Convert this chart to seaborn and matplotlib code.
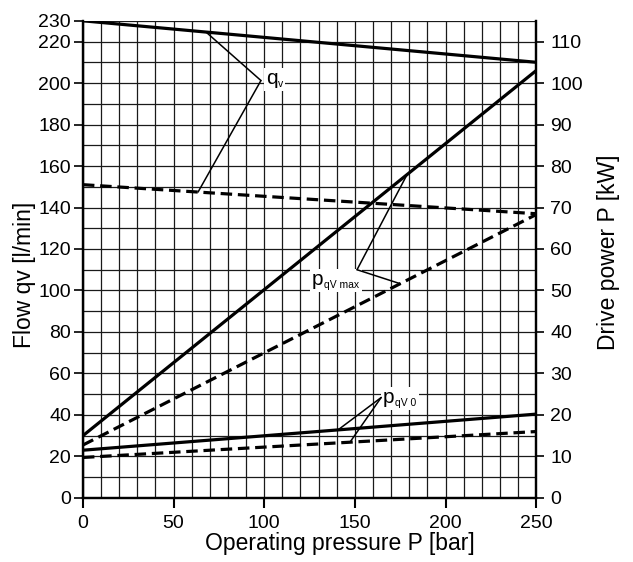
import numpy as np
import pandas as pd
import matplotlib
matplotlib.use("Agg")
import matplotlib.pyplot as plt
import matplotlib.patches as mpatches
import matplotlib.transforms as mtransforms
import seaborn as sns

# ---- data ----
pressure = [0, 250]                      # bar
flow_full = [230, 210]                   # l/min, solid q_V
flow_partial = [151, 137]                # l/min, dashed q_V
power_max_full = [15.0, 103.0]           # kW, solid p_qV max
power_max_partial = [12.75, 68.3]        # kW, dashed p_qV max
power_zero_full = [11.5, 20.2]           # kW, solid p_qV 0
power_zero_partial = [9.75, 16.0]        # kW, dashed p_qV 0

pressure_ticks = [0, 50, 100, 150, 200, 250]
flow_ticks = [0, 20, 40, 60, 80, 100, 120, 140, 160, 180, 200, 220, 230]
power_ticks = [0, 10, 20, 30, 40, 50, 60, 70, 80, 90, 100, 110]

sns.set_theme(style="white")
plt.rcParams["font.family"] = ["Liberation Sans", "DejaVu Sans"]
plt.rcParams["text.color"] = "black"
plt.rcParams["axes.labelcolor"] = "black"

fig = plt.figure(figsize=(6.33, 5.62), dpi=100)
ax = fig.add_axes([0.131, 0.114, 0.716, 0.849])
ax2 = ax.twinx()

LW = 2.3
DASH = (3.6, 1.8)
TICK_FS = 14
LABEL_FS = 16.5
MAIN_FS = 15
SUB_FS = 7.5

def draw(axis, y, dashed):
    df = pd.DataFrame({"x": pressure, "y": y, "k": ["d" if dashed else "s"] * len(y)})
    sns.lineplot(data=df, x="x", y="y", style="k",
                 dashes={"s": "", "d": DASH}, color="black", lw=LW,
                 legend=False, ax=axis, zorder=5)

draw(ax, flow_full, False)
draw(ax, flow_partial, True)
draw(ax2, power_max_full, False)
draw(ax2, power_max_partial, True)
draw(ax2, power_zero_full, False)
draw(ax2, power_zero_partial, True)

# axes ranges and ticks
ax.set_xlim(0, 250)
ax.set_ylim(0, 230)
ax2.set_ylim(0, 115)
ax.set_xticks(pressure_ticks)
ax.set_yticks(flow_ticks)
ax2.set_yticks(power_ticks)
ax.set_xticks(np.arange(0, 251, 10), minor=True)
ax.set_yticks(np.arange(0, 231, 10), minor=True)
ax.grid(which="both", color="#1a1a1a", lw=0.9)
ax.set_axisbelow(True)
ax.tick_params(which="minor", length=0)
ax.tick_params(axis="y", which="major", length=6.5, width=1.2, pad=2,
               labelsize=TICK_FS, left=True, colors="black")
ax.tick_params(axis="x", which="major", length=7.5, width=1.5, pad=5,
               labelsize=TICK_FS, bottom=True, colors="black")
ax2.tick_params(axis="y", length=6, width=1.2, pad=4, labelsize=TICK_FS,
                right=True, colors="black")

for a in (ax, ax2):
    for s in ("left", "bottom", "right"):
        a.spines[s].set_color("black")
        a.spines[s].set_linewidth(1.6)
    a.spines["top"].set_visible(False)

ax.set_xlabel("Operating pressure P [bar]", fontsize=LABEL_FS)
ax.xaxis.set_label_coords(0.567, -0.072)
ax.set_ylabel("Flow qv [l/min]", fontsize=LABEL_FS)
ax.yaxis.set_label_coords(-0.104, 0.467)
ax2.set_ylabel("Drive power P [kW]", fontsize=LABEL_FS)
ax2.yaxis.set_label_coords(1.135, 0.514)

# ---- annotations (leader lines to the curves) ----
lead = dict(arrowstyle="-", lw=1.1, color="black", shrinkA=0, shrinkB=0)

def leader(junction, x_on_curve, curve, axis_scale=1.0):
    yv = np.interp(x_on_curve, pressure, curve) * axis_scale
    ax2.annotate("", xy=(x_on_curve, yv), xytext=junction, arrowprops=lead, zorder=9)

def sublabel(x, y, main, sub):
    t = ax2.text(x, y, main, fontsize=MAIN_FS, ha="left", va="baseline", zorder=8)
    fig.canvas.draw()
    r = t.get_window_extent()
    xr = ax2.transData.inverted().transform((r.x1, r.y0))[0]
    s = ax2.annotate(sub, xy=(xr, y), xycoords="data", xytext=(0.6, -2.2),
                     textcoords="offset points", fontsize=SUB_FS, ha="left",
                     va="baseline", zorder=8, annotation_clip=False)
    fig.canvas.draw()
    r2 = s.get_window_extent()
    x0, y0 = min(r.x0, r2.x0) - 2, min(r.y0, r2.y0) - 2
    x1, y1 = max(r.x1, r2.x1) + 2, max(r.y1, r2.y1) + 1
    bg = mpatches.Rectangle((x0, y0), x1 - x0, y1 - y0, facecolor="white",
                            edgecolor="none", transform=mtransforms.IdentityTransform(),
                            zorder=7)
    ax2.add_artist(bg)

# q_V (flow curves in l/min -> kW coordinates of ax2 by /2)
j_q = (98.2, 100.6)
leader(j_q, 67.9, flow_full, 0.5)
leader(j_q, 63.5, flow_partial, 0.5)
sublabel(100.8, 99.7, "q", "v")

# p_qV max
j_m = (151.2, 55.0)
leader(j_m, 178.8, power_max_full)
leader(j_m, 175.0, power_max_partial)
sublabel(126.4, 51.3, "p", "qV max")

# p_qV 0
j_0 = (164.5, 24.2)
leader(j_0, 140.7, power_zero_full)
leader(j_0, 147.3, power_zero_partial)
sublabel(165.6, 22.9, "p", "qV 0")

fig.savefig("out.png", dpi=100)
